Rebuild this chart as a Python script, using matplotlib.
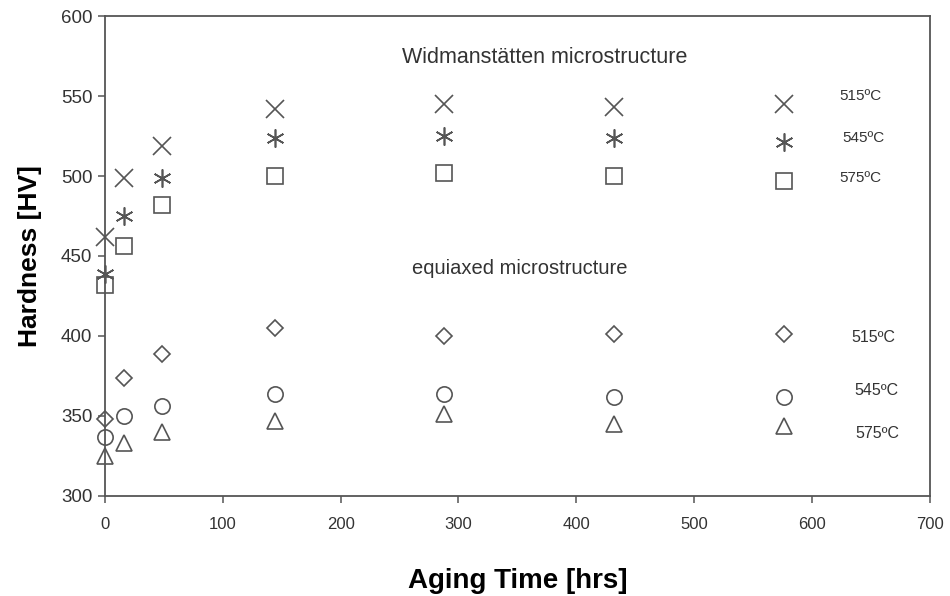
import matplotlib
matplotlib.use("Agg")
import matplotlib.pyplot as plt

plt.rcParams['font.family'] = ['Liberation Sans', 'DejaVu Sans']

# aging times in hours
hours = [0, 16, 48, 144, 288, 432, 576]

# Widmanstatten microstructure
widm_515 = [462, 499, 519, 542, 545, 543, 545]
widm_545 = [439, 475, 499, 524, 525, 524, 521]
widm_575 = [432, 456, 482, 500, 502, 500, 497]

# equiaxed microstructure
equi_515 = [348, 374, 389, 405, 400, 401, 401]
equi_545 = [337, 350, 356, 364, 364, 362, 362]
equi_575 = [325, 333, 340, 347, 351, 345, 344]

temp_labels = ["515ºC", "545ºC", "575ºC"]

grey = "#555555"

fig = plt.figure(figsize=(9.5, 5.96), dpi=100)
ax = fig.add_axes([0.1105, 0.168, 0.868, 0.805])

style = dict(linestyle="none", markerfacecolor="none", markeredgecolor=grey, clip_on=False)
ax.plot(hours, widm_515, marker="x", markersize=13, markeredgewidth=1.2, **style)
ax.plot(hours, widm_545, marker=(6, 2, 0), markersize=13, markeredgewidth=1.2, **style)
ax.plot(hours, widm_575, marker="s", markersize=11, markeredgewidth=1.2, **style)
ax.plot(hours, equi_515, marker="D", markersize=8.5, markeredgewidth=1.2, **style)
ax.plot(hours, equi_545, marker="o", markersize=11, markeredgewidth=1.2, **style)
ax.plot(hours, equi_575, marker="^", markersize=12, markeredgewidth=1.2, **style)

# group titles and temperature labels
ax.text(373, 574, "Widmanstätten microstructure", ha="center", va="center", fontsize=15.5, color="#333333")
ax.text(352, 442, "equiaxed microstructure", ha="center", va="center", fontsize=14.5, color="#333333")

upper_pos = [(641, 550), (644, 524), (641, 499)]
lower_pos = [(652, 399), (655, 366), (656, 339)]
for lab, (x, y) in zip(temp_labels, upper_pos):
    ax.text(x, y, lab, ha="center", va="center", fontsize=11, color="#333333")
for lab, (x, y) in zip(temp_labels, lower_pos):
    ax.text(x, y, lab, ha="center", va="center", fontsize=11.5, color="#333333")

ax.set_xlim(0, 700)
ax.set_ylim(300, 600)
ax.set_xticks(range(0, 701, 100))
ax.set_yticks(range(300, 601, 50))

for s in ax.spines.values():
    s.set_color(grey)
    s.set_linewidth(1.3)
ax.tick_params(direction="out", length=5, width=1.1, color=grey,
               labelcolor="#333333")
ax.tick_params(axis="x", labelsize=12, pad=10)
ax.tick_params(axis="y", labelsize=13.5, pad=4)

ax.set_xlabel("Aging Time [hrs]", fontsize=20, fontweight="bold", labelpad=26)
ax.set_ylabel("Hardness [HV]", fontsize=19, fontweight="bold", labelpad=14)

fig.savefig("out.png", dpi=100)
